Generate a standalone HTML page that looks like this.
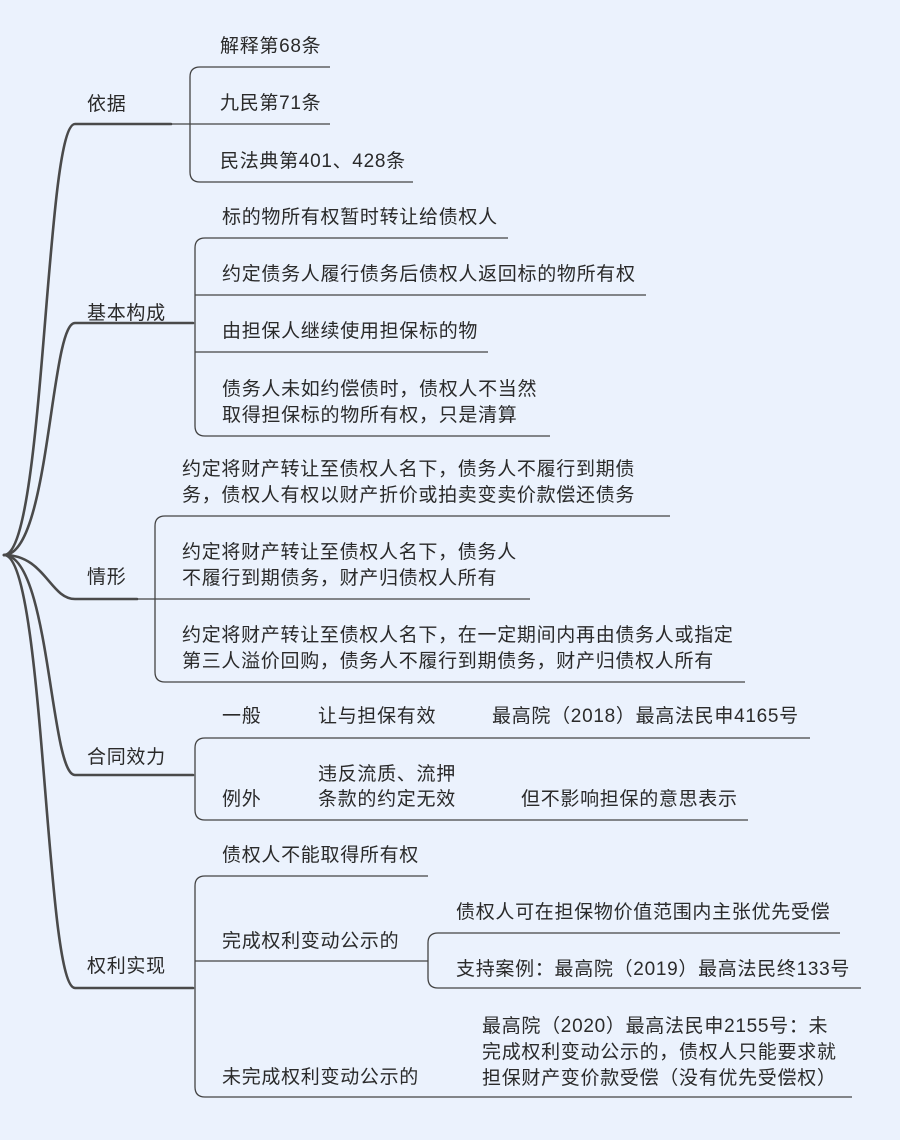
<!DOCTYPE html>
<html><head><meta charset="utf-8"><style>
body{margin:0;background:#ebf2fd;}
svg{display:block}
text{font-family:"Liberation Sans","Noto Sans CJK SC",sans-serif;font-size:19px;letter-spacing:0.7px;fill:#2a2a2a;}
.m{stroke:#4a4a4a;stroke-width:2.6;fill:none;stroke-linecap:round}
.s{stroke:#444;stroke-width:1.3;fill:none}
</style></head><body>
<svg width="900" height="1140" viewBox="0 0 900 1140">
<rect width="900" height="1140" fill="#ebf2fd"/>
<path class="m" d="M4,555 C45,555 45,124 75,124 L171,124"/>
<path class="m" d="M4,555 C50,555 50,323 75,323 L193,323"/>
<path class="m" d="M4,555 C45,555 50,599 75,599 L137,599"/>
<path class="m" d="M4,555 C50,555 50,775 75,775 L193,775"/>
<path class="m" d="M4,555 C45,555 45,988 75,988 L193,988"/>
<path class="s" d="M330,67 L200,67 Q190,67 190,77 L190,172 Q190,182 200,182 L413,182 M171,124 L330,124"/>
<text x="87" y="110">依据</text>
<text x="220" y="52">解释第68条</text>
<text x="220" y="109">九民第71条</text>
<text x="220" y="167">民法典第401、428条</text>
<path class="s" d="M508,238 L205,238 Q195,238 195,248 L195,426 Q195,436 205,436 L550,436 M195,295 L646,295 M195,352 L488,352"/>
<text x="87" y="319">基本构成</text>
<text x="222" y="223">标的物所有权暂时转让给债权人</text>
<text x="222" y="280">约定债务人履行债务后债权人返回标的物所有权</text>
<text x="222" y="337">由担保人继续使用担保标的物</text>
<text x="222" y="395">债务人未如约偿债时，债权人不当然</text>
<text x="222" y="421">取得担保标的物所有权，只是清算</text>
<path class="s" d="M670,516 L165,516 Q155,516 155,526 L155,672 Q155,682 165,682 L745,682 M137,599 L530,599"/>
<text x="87" y="583">情形</text>
<text x="182" y="475">约定将财产转让至债权人名下，债务人不履行到期债</text>
<text x="182" y="501">务，债权人有权以财产折价或拍卖变卖价款偿还债务</text>
<text x="182" y="558">约定将财产转让至债权人名下，债务人</text>
<text x="182" y="584">不履行到期债务，财产归债权人所有</text>
<text x="182" y="641">约定将财产转让至债权人名下，在一定期间内再由债务人或指定</text>
<text x="182" y="667">第三人溢价回购，债务人不履行到期债务，财产归债权人所有</text>
<path class="s" d="M810,738 L205,738 Q195,738 195,748 L195,810 Q195,820 205,820 L748,820"/>
<text x="87" y="763">合同效力</text>
<text x="222" y="722">一般</text>
<text x="318" y="722">让与担保有效</text>
<text x="492" y="722">最高院（2018）最高法民申4165号</text>
<text x="318" y="780">违反流质、流押</text>
<text x="222" y="805">例外</text>
<text x="318" y="805">条款的约定无效</text>
<text x="521" y="805">但不影响担保的意思表示</text>
<path class="s" d="M428,876 L205,876 Q195,876 195,886 L195,1087 Q195,1097 205,1097 L852,1097 M195,961 L428,961"/>
<path class="s" d="M840,933 L438,933 Q428,933 428,943 L428,978 Q428,988 438,988 L861,988"/>
<text x="87" y="972">权利实现</text>
<text x="222" y="861">债权人不能取得所有权</text>
<text x="222" y="947">完成权利变动公示的</text>
<text x="456" y="918">债权人可在担保物价值范围内主张优先受偿</text>
<text x="456" y="975">支持案例：最高院（2019）最高法民终133号</text>
<text x="482" y="1032">最高院（2020）最高法民申2155号：未</text>
<text x="482" y="1058">完成权利变动公示的，债权人只能要求就</text>
<text x="482" y="1084">担保财产变价款受偿（没有优先受偿权）</text>
<text x="222" y="1083">未完成权利变动公示的</text>
</svg>
</body></html>
